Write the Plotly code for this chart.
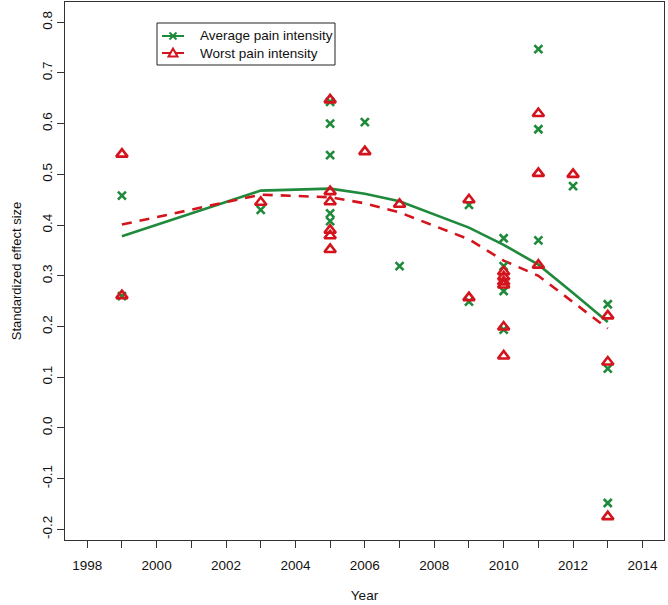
import plotly.graph_objects as go

# ---- data ----
avg_years = [1999, 1999, 2003, 2005, 2005, 2005, 2005, 2005, 2006, 2007,
             2009, 2009, 2010, 2010, 2010, 2010, 2011, 2011, 2011, 2012,
             2013, 2013, 2013]
avg_values = [0.458, 0.260, 0.430, 0.643, 0.600, 0.538, 0.423, 0.408, 0.603, 0.319,
              0.440, 0.249, 0.374, 0.319, 0.270, 0.194, 0.747, 0.589, 0.370, 0.477,
              0.244, 0.117, -0.148]

worst_years = [1999, 1999, 2003, 2005, 2005, 2005, 2005, 2005, 2005, 2006, 2007,
               2009, 2009, 2010, 2010, 2010, 2010, 2010, 2010, 2011, 2011, 2011,
               2012, 2013, 2013, 2013]
worst_values = [0.540, 0.261, 0.445, 0.647, 0.466, 0.446, 0.390, 0.379, 0.352, 0.545, 0.441,
                0.450, 0.257, 0.308, 0.298, 0.288, 0.282, 0.199, 0.142, 0.620, 0.502, 0.321,
                0.500, 0.221, 0.130, -0.175]

fit_years = [1999, 2003, 2005, 2006, 2007, 2009, 2010, 2011, 2012, 2013]
avg_fit = [0.378, 0.468, 0.472, 0.462, 0.447, 0.395, 0.361, 0.322, 0.266, 0.209]
worst_fit = [0.401, 0.460, 0.455, 0.443, 0.425, 0.372, 0.330, 0.300, 0.248, 0.196]

series_names = ["Average pain intensity", "Worst pain intensity"]

x_tickvals = list(range(1998, 2015))
x_ticktext = [str(y) if y % 2 == 0 else "" for y in x_tickvals]
y_tickvals = [-0.2, -0.1, 0.0, 0.1, 0.2, 0.3, 0.4, 0.5, 0.6, 0.7, 0.8]
y_ticktext = ["-0.2", "-0.1", "0.0", "0.1", "0.2", "0.3", "0.4", "0.5", "0.6", "0.7", "0.8"]

GREEN = "#1f8a3b"
RED = "#d4141c"
FONT = "Liberation Sans, Arial, sans-serif"

W, H = 668, 605
ML, MR, MT, MB = 65, 4, 2, 65
PW, PH = W - ML - MR, H - MT - MB


def px(x):
    return (x - ML) / PW


def py(y):
    return (H - MB - y) / PH


fig = go.Figure()

# fitted lines
fig.add_trace(go.Scatter(x=fit_years, y=avg_fit, mode="lines",
                         line=dict(color=GREEN, width=2.6), showlegend=False,
                         hoverinfo="skip"))
fig.add_trace(go.Scatter(x=fit_years, y=worst_fit, mode="lines",
                         line=dict(color=RED, width=2.6, dash="10px,8px"),
                         showlegend=False, hoverinfo="skip"))

# points
fig.add_trace(go.Scatter(x=avg_years, y=avg_values, mode="markers", name=series_names[0],
                         marker=dict(symbol="x-thin-open", size=8, color=GREEN,
                                     line=dict(color=GREEN, width=2.6)),
                         showlegend=False))
fig.add_trace(go.Scatter(x=worst_years, y=worst_values, mode="markers", name=series_names[1],
                         marker=dict(symbol="triangle-up-open", size=10, color=RED,
                                     line=dict(color=RED, width=2.6)),
                         showlegend=False))

# ---- hand-drawn legend (R style box) ----
shapes = []
annotations = []
shapes.append(dict(type="rect", xref="paper", yref="paper",
                   x0=px(157), x1=px(335), y0=py(65), y1=py(23),
                   line=dict(color="#222222", width=1), fillcolor="white", layer="above"))
rows = [(36, GREEN), (53, RED)]
for i, (ry, col) in enumerate(rows):
    shapes.append(dict(type="line", xref="paper", yref="paper",
                       x0=px(162), x1=px(184), y0=py(ry), y1=py(ry),
                       line=dict(color=col, width=2), layer="above"))
    if i == 0:
        for dx0, dy0, dx1, dy1 in [(-3.5, -3.5, 3.5, 3.5), (-3.5, 3.5, 3.5, -3.5)]:
            shapes.append(dict(type="line", xref="paper", yref="paper",
                               x0=px(173 + dx0), x1=px(173 + dx1),
                               y0=py(ry + dy0), y1=py(ry + dy1),
                               line=dict(color=col, width=2), layer="above"))
    else:
        cx = 173
        path = "M {:.5f},{:.5f} L {:.5f},{:.5f} L {:.5f},{:.5f} Z".format(
            px(cx - 4.5), py(ry + 3.5), px(cx + 4.5), py(ry + 3.5), px(cx), py(ry - 4.5))
        shapes.append(dict(type="path", xref="paper", yref="paper", path=path,
                           line=dict(color=col, width=2), fillcolor="white", layer="above"))
    annotations.append(dict(xref="paper", yref="paper", x=px(198), y=py(ry),
                            xanchor="left", yanchor="middle", showarrow=False,
                            text=series_names[i], font=dict(size=13.5, color="#111111")))

fig.update_layout(
    width=W, height=H,
    margin=dict(l=ML, r=MR, t=MT, b=MB),
    paper_bgcolor="white", plot_bgcolor="white",
    font=dict(family=FONT, size=13, color="#111111"),
    showlegend=False,
    shapes=shapes, annotations=annotations,
    xaxis=dict(range=[1997.36, 2014.62], tickvals=x_tickvals, ticktext=x_ticktext,
               ticks="outside", ticklen=7, tickwidth=1, tickcolor="#333333",
               showline=True, linecolor="#333333", linewidth=1, mirror=True,
               showgrid=False, zeroline=False,
               tickfont=dict(size=13.5), ticklabelstandoff=6,
               title=dict(text="Year", font=dict(size=13.5), standoff=18)),
    yaxis=dict(range=[-0.221, 0.84], tickvals=y_tickvals, ticktext=y_ticktext,
               ticks="outside", ticklen=7, tickwidth=1, tickcolor="#333333",
               showline=True, linecolor="#333333", linewidth=1, mirror=True,
               showgrid=False, zeroline=False, tickangle=-90,
               tickfont=dict(size=13.5), ticklabelstandoff=0,
               title=dict(text="Standardized effect size", font=dict(size=13), standoff=15)),
)

fig.write_html("out.html", config={"displayModeBar": False},
               post_script="document.body.style.margin='0px';")
